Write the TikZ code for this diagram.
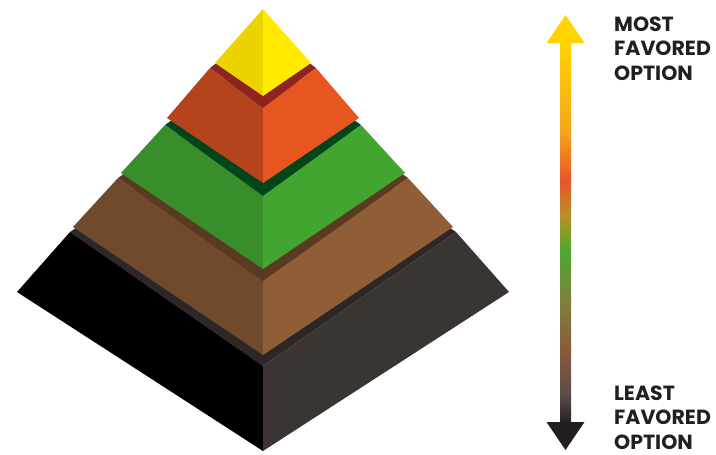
\documentclass[tikz,border=0pt]{standalone}
\usepackage{fontspec}
\newfontfamily\labfont{Poppins}
\definecolor{yelL}{HTML}{EBD300}
\definecolor{yelR}{HTML}{FFEA00}
\definecolor{oraB}{HTML}{8E2421}
\definecolor{oraL}{HTML}{B5431C}
\definecolor{oraR}{HTML}{E8561F}
\definecolor{greB}{HTML}{00461A}
\definecolor{greL}{HTML}{378E2B}
\definecolor{greR}{HTML}{42A52F}
\definecolor{broB}{HTML}{5A3A20}
\definecolor{broL}{HTML}{6F4A2C}
\definecolor{broR}{HTML}{8F5E36}
\definecolor{blaB}{HTML}{2E2727}
\definecolor{blaL}{HTML}{000000}
\definecolor{blaR}{HTML}{3A3432}
\definecolor{txt}{HTML}{231F20}
\definecolor{g1}{HTML}{FFD400}
\definecolor{g2}{HTML}{F7A51A}
\definecolor{g3}{HTML}{E8552A}
\definecolor{g4}{HTML}{B89028}
\definecolor{g5}{HTML}{4DA82F}
\definecolor{g6}{HTML}{80803C}
\definecolor{g7}{HTML}{8A5A3A}
\definecolor{g8}{HTML}{5A4D48}
\definecolor{g9}{HTML}{231F20}
\begin{document}
\begin{tikzpicture}[x=1pt,y=-1pt,
  lab/.style={font=\labfont\bfseries\fontsize{20.5}{24.5}\selectfont, text=txt, align=left, inner sep=0pt}]
\useasboundingbox (0,0) rectangle (716,455);
% black tier
\fill[blaB] (70,232) -- (263,100) -- (456,232) -- (263,366) -- cycle;
\fill[blaL] (70,232) -- (263,366) -- (263,451) -- (17,292) -- cycle;
\fill[blaR] (456,232) -- (263,366) -- (263,451) -- (509,292) -- cycle;
% brown tier
\fill[broB] (118,178) -- (263,75) -- (408,178) -- (263,281) -- cycle;
\fill[broL] (118,178) -- (263,281) -- (263,355) -- (73,227) -- cycle;
\fill[broR] (408,178) -- (263,281) -- (263,355) -- (453,227) -- cycle;
% green tier
\fill[greB] (165,125) -- (263,55) -- (361,125) -- (263,196) -- cycle;
\fill[greL] (165,125) -- (263,196) -- (263,269) -- (121,173) -- cycle;
\fill[greR] (361,125) -- (263,196) -- (263,269) -- (405,173) -- cycle;
% orange tier
\fill[oraB] (210,68) -- (263,28) -- (316,68) -- (263,108) -- cycle;
\fill[oraL] (210,68) -- (263,108) -- (263,183) -- (167,118) -- cycle;
\fill[oraR] (316,68) -- (263,108) -- (263,183) -- (359,118) -- cycle;
% yellow top
\fill[yelL] (263,9) -- (263,96) -- (215,63) -- cycle;
\fill[yelR] (263,9) -- (263,96) -- (311,63) -- cycle;
% gradient arrow
\shade[top color=g1, bottom color=g2] (560,42) rectangle (571,131);
\shade[top color=g2, bottom color=g3] (560,130) rectangle (571,181);
\shade[top color=g3, bottom color=g4] (560,180) rectangle (571,216);
\shade[top color=g4, bottom color=g5] (560,215) rectangle (571,251);
\shade[top color=g5, bottom color=g6] (560,250) rectangle (571,301);
\shade[top color=g6, bottom color=g7] (560,300) rectangle (571,351);
\shade[top color=g7, bottom color=g8] (560,350) rectangle (571,396);
\shade[top color=g8, bottom color=g9] (560,395) rectangle (571,423);
\fill[g1] (565.5,15) -- (584.5,43) -- (546.5,43) -- cycle;
\fill[g9] (565.5,450) -- (584.5,422) -- (546.5,422) -- cycle;
% labels
\node[lab, anchor=base west] (most) at (614,80) {MOST\\FAVORED\\OPTION};
\node[lab, anchor=base west] (least) at (614,449) {LEAST\\FAVORED\\OPTION};
\end{tikzpicture}
\end{document}
